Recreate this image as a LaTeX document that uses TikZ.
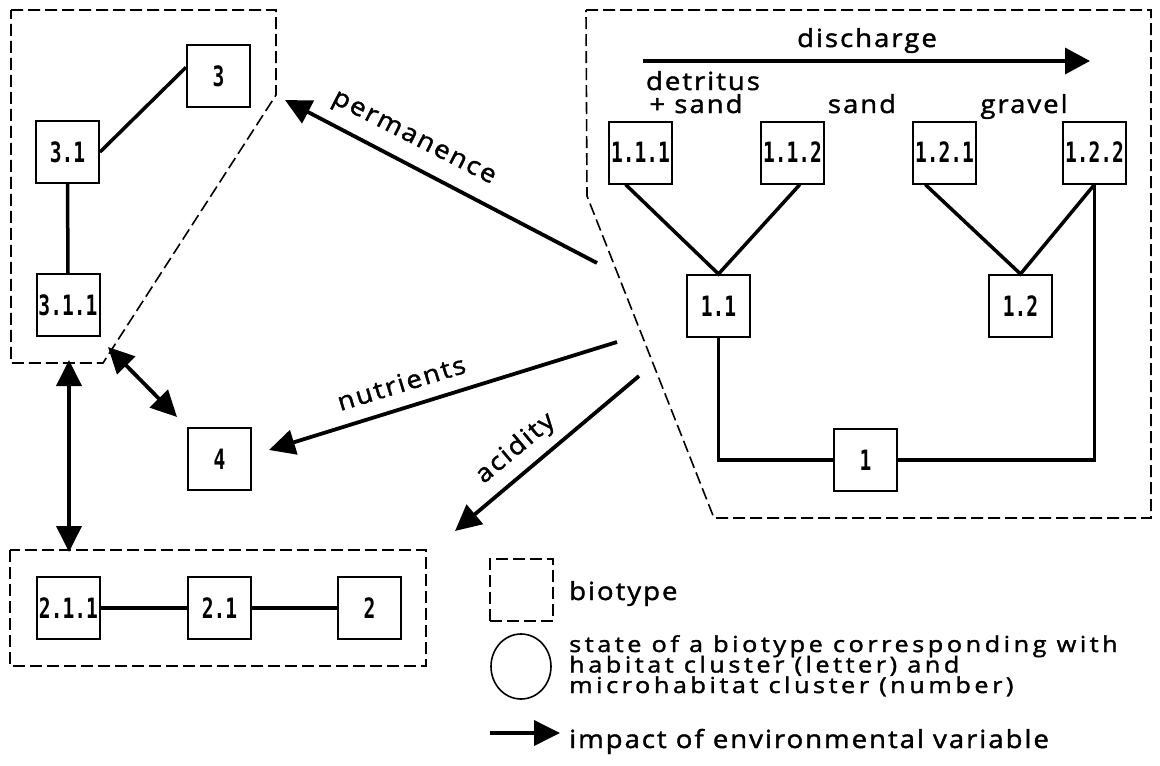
\documentclass[tikz,border=0pt]{standalone}
\usepackage{fontspec}
\usepackage{tikz}
\usetikzlibrary{calc,arrows.meta,shapes.geometric}
\setmainfont{Open Sans}[FakeStretch=1.1,LetterSpace=8,FakeBold=1.6]
\newfontfamily\numfont{DejaVu Sans Mono}[FakeStretch=0.7]
\newfontfamily\legfont{Open Sans}[FakeStretch=1.15,LetterSpace=16,FakeBold=1.6]
\tikzset{
  box/.style={draw, line width=2pt, minimum width=63pt, minimum height=62pt, inner sep=0pt,
    font=\numfont\bfseries\fontsize{28}{28}\selectfont},
  biot/.style={draw, line width=1.6pt, dash pattern=on 12pt off 5pt},
  link/.style={line width=3.5pt},
  impact/.style={line width=3.8pt, -{Triangle[length=26pt,width=25pt]}},
  both/.style={line width=3.8pt, {Triangle[length=26pt,width=25pt]}-{Triangle[length=26pt,width=25pt]}},
  lab/.style={font=\fontsize{25}{25}\selectfont, inner sep=0pt},
}

\begin{document}
\begin{tikzpicture}[x=1pt,y=-1pt]
  \useasboundingbox[fill=white] (0,0) rectangle (1160,766);

  % biotype 3
  \draw[biot] (11,10) -- (276,10) -- (276,95) -- (103,363) -- (11,363) -- cycle;
  \node[box] (n3) at (218.5,76) {3};
  \node[box] (n31) at (67.5,152) {3.1};
  \node[box] (n311) at (68,305) {3.1.1};
  \draw[link] (n31.east) -- (n3.165);
  \draw[link] (n31.south) -- (n311.north);

  % biotype 4
  \node[box] (n4) at (219.5,459) {4};

  % biotype 2
  \draw[biot] (10,550) rectangle (426,666);
  \node[box] (n211) at (68.5,608) {2.1.1};
  \node[box] (n21) at (219.5,608) {2.1};
  \node[box] (n2) at (369.5,608) {2};
  \draw[link] (n211) -- (n21) -- (n2);

  % biotype 1
  \draw[biot] (586,10) -- (1151,10) -- (1151,518) -- (714,518) -- (587,196) -- cycle;
  \coordinate (d1) at (643,61);
  \coordinate (d2) at (1090,61);
  \draw[link,-{Triangle[length=25pt,width=26pt]}] (d1) -- (d2);
  \node[lab, anchor=base] (tdis) at (867,47) {discharge};
  \node[lab, anchor=base] (tdet) at (703,90) {detritus};
  \node[lab, anchor=base] (tds) at (696,113) {+ sand};
  \node[lab, anchor=base] (tsand) at (862,113) {sand};
  \node[lab, anchor=base] (tgrav) at (1024,113) {gravel};

  \node[box] (n111) at (640.5,152.5) {1.1.1};
  \node[box] (n112) at (792.5,152.5) {1.1.2};
  \node[box] (n121) at (944.5,152.5) {1.2.1};
  \node[box] (n122) at (1094.5,152.5) {1.2.2};
  \node[box] (n11) at (718.5,306) {1.1};
  \node[box] (n12) at (1020.5,306) {1.2};
  \node[box] (n1) at (865.5,460) {1};
  \draw[link] (n111.-115) -- (n11.north) -- (n112.-77);
  \draw[link] (n121.-121) -- (n12.north) -- (n122.south);
  \draw[link] (n11.south) |- (n1.west);
  \draw[link] (n122.south) |- (n1.east);

  % environmental variables
  \coordinate (p1) at (597,263);
  \coordinate (p2) at (285,100);
  \draw[impact] (p1) -- (p2);
  \node[lab, rotate=-27] at ($(p1)!0.59!(p2)+(0,-27)$) {permanence};

  \coordinate (q1) at (617,342);
  \coordinate (q2) at (269,450);
  \draw[impact] (q1) -- (q2);
  \node[lab, rotate=17] at ($(q1)!0.62!(q2)+(0,-26)$) {nutrients};

  \coordinate (a1) at (639,376);
  \coordinate (a2) at (455,531);
  \draw[impact] (a1) -- (a2);
  \node[lab, rotate=40] at ($(a1)!0.67!(a2)+(0,-31)$) {acidity};

  \coordinate (b1) at (108,347);
  \coordinate (b2) at (177,417);
  \draw[both] (b1) -- (b2);
  \coordinate (c1) at (69,360);
  \coordinate (c2) at (69,552);
  \draw[both] (c1) -- (c2);

  % legend
  \node[biot, minimum width=63pt, minimum height=62pt] (lbio) at (521.5,590) {};
  \node[lab, anchor=base west] (tbio) at (569,600) {biotype};
  \node[draw, line width=1.6pt, ellipse, minimum width=60pt, minimum height=65pt, inner sep=0pt] (lst) at (521,666.5) {};
  \node[anchor=base west, align=left, inner sep=0pt, font=\legfont\fontsize{22}{22}\selectfont] (tst) at (569,693)
    {state of a biotype corresponding with\\[-1.5pt]habitat cluster (letter) and\\[-1.5pt]microhabitat cluster (number)};
  \coordinate (e1) at (490,733);
  \coordinate (e2) at (560,733);
  \draw[impact] (e1) -- (e2);
  \node[lab, anchor=base west] (timp) at (569,748) {impact of environmental variable};
\end{tikzpicture}
\end{document}
